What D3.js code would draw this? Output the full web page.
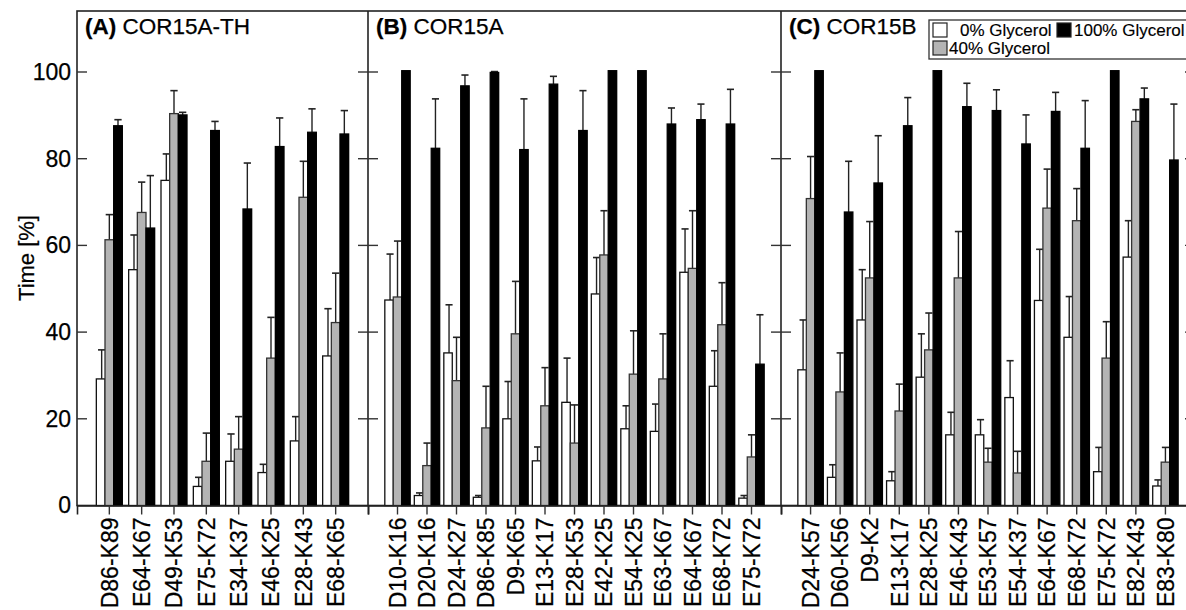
<!DOCTYPE html>
<html>
<head>
<meta charset="utf-8">
<script src="https://cdn.jsdelivr.net/npm/d3@7"></script>
<style>
  html, body { margin: 0; padding: 0; background: #fff; }
  svg { display: block; font-family: "Liberation Sans", Arial, sans-serif; }
  text { stroke: #000; stroke-width: 0.25px; }
</style>
</head>
<body>
<svg id="chart" width="1186" height="610"></svg>
<script>
// ---------------- data ----------------
const panelTitles = ["COR15A-TH", "COR15A", "COR15B"];
const panelLetters = ["(A)", "(B)", "(C)"];
const seriesNames = ["0% Glycerol", "40% Glycerol", "100% Glycerol"];
const yTicks = [0, 20, 40, 60, 80, 100];

const catsA = ["D86-K89", "E64-K67", "D49-K53", "E75-K72", "E34-K37", "E46-K25", "E28-K43", "E68-K65"];
const a0    = [29.2, 54.4, 75.0, 4.4, 10.2, 7.6, 14.9, 34.5];
const a0e   = [6.7, 8.0, 6.1, 2.1, 6.3, 1.9, 5.6, 10.9];
const a40   = [61.3, 67.6, 90.4, 10.2, 13.0, 34.0, 71.1, 42.2];
const a40e  = [5.8, 7.0, 5.3, 6.5, 7.5, 9.4, 8.3, 11.4];
const a100  = [87.6, 64.0, 90.1, 86.5, 68.4, 82.8, 86.1, 85.7];
const a100e = [1.4, 12.1, 0.6, 2.1, 10.6, 6.6, 5.4, 5.4];

const catsB = ["D10-K16", "D20-K16", "D24-K27", "D86-K85", "D9-K65", "E13-K17", "E28-K53", "E42-K25", "E54-K25", "E63-K67", "E64-K67", "E68-K72", "E75-K72"];
const b0    = [47.4, 2.3, 35.2, 1.9, 20.0, 10.3, 23.8, 48.8, 17.7, 17.1, 53.8, 27.5, 1.7];
const b0e   = [10.6, 0.6, 11.1, 0.4, 8.6, 3.2, 10.2, 8.4, 5.3, 6.3, 10.0, 8.2, 0.6];
const b40   = [48.1, 9.2, 28.8, 17.9, 39.6, 23.0, 14.4, 57.8, 30.3, 29.2, 54.7, 41.7, 11.2];
const b40e  = [12.9, 5.2, 10.0, 9.6, 12.1, 8.8, 8.8, 10.2, 10.0, 10.4, 13.3, 9.7, 5.1];
const b100  = [100.3, 82.4, 96.8, 99.9, 82.1, 97.2, 86.5, 100.3, 100.3, 88.0, 89.0, 88.0, 32.6];
const b100e = [0, 11.4, 2.5, 0.2, 11.7, 1.8, 9.2, 0, 0, 3.7, 3.6, 8.0, 11.4];

const catsC = ["D24-K57", "D60-K56", "D9-K2", "E13-K17", "E28-K25", "E46-K43", "E53-K57", "E54-K37", "E64-K67", "E68-K72", "E75-K72", "E82-K43", "E83-K80"];
const c0    = [31.3, 6.5, 42.8, 5.7, 29.6, 16.3, 16.3, 24.9, 47.3, 38.8, 7.8, 57.3, 4.5];
const c0e   = [11.5, 2.9, 11.6, 2.1, 10.0, 5.2, 3.5, 8.5, 11.8, 9.4, 5.6, 8.4, 1.4];
const c40   = [70.8, 26.2, 52.5, 21.8, 35.9, 52.5, 10.0, 7.5, 68.6, 65.7, 34.0, 88.6, 10.0];
const c40e  = [9.7, 9.0, 13.0, 6.2, 8.5, 10.7, 3.2, 5.0, 9.0, 7.4, 8.4, 2.7, 3.4];
const c100  = [100.3, 67.7, 74.4, 87.6, 100.3, 92.0, 91.1, 83.4, 90.9, 82.4, 100.3, 93.8, 79.7];
const c100e = [0, 11.7, 10.9, 6.5, 0, 5.4, 4.8, 6.7, 4.4, 11.0, 0, 2.5, 12.9];

// ---------------- layout ----------------
const svg = d3.select("#chart");
const FONT = 23;
const plotTop = 11, plotBottom = 505.5;
const panelEdges = [77, 368, 781, 1195];
const fills = ["#ffffff", "#b4b4b4", "#000000"];
const strokes = ["#111", "#333", "#000"];

const y = d3.scaleLinear().domain([0, 100]).range([plotBottom, 72]);

const panels = [
  { cats: catsA, vals: [a0, a40, a100], errs: [a0e, a40e, a100e] },
  { cats: catsB, vals: [b0, b40, b100], errs: [b0e, b40e, b100e] },
  { cats: catsC, vals: [c0, c40, c100], errs: [c0e, c40e, c100e] }
];

// frame
svg.append("rect")
  .attr("x", panelEdges[0]).attr("y", plotTop)
  .attr("width", panelEdges[3] - panelEdges[0]).attr("height", plotBottom - plotTop)
  .attr("fill", "none").attr("stroke", "#222").attr("stroke-width", 1.6);
[panelEdges[1], panelEdges[2]].forEach(xv => {
  svg.append("line").attr("x1", xv).attr("x2", xv).attr("y1", plotTop).attr("y2", plotBottom)
    .attr("stroke", "#222").attr("stroke-width", 1.6);
});

// y ticks on each panel border
panelEdges.forEach((xv, i) => {
  const left = i === 0 ? 0 : 10;
  const right = i === 3 ? 0 : 10;
  yTicks.filter(t => t > 0).forEach(t => {
    svg.append("line")
      .attr("x1", xv - left).attr("x2", xv + right)
      .attr("y1", y(t)).attr("y2", y(t))
      .attr("stroke", "#333").attr("stroke-width", 1.4);
  });
});

// y axis labels
const yAxis = d3.axisLeft(y).tickValues(yTicks).tickSize(0).tickPadding(6);
const yg = svg.append("g").attr("transform", `translate(${panelEdges[0]},0)`).call(yAxis);
yg.select(".domain").remove();
yg.selectAll("text").attr("font-size", FONT).attr("fill", "#000")
  .attr("font-family", '"Liberation Sans", Arial, sans-serif');

svg.append("text")
  .attr("transform", "translate(34,258) rotate(-90)")
  .attr("text-anchor", "middle")
  .attr("font-size", 22).attr("fill", "#000")
  .text("Time [%]");

// panels
panels.forEach((p, pi) => {
  const x = d3.scaleBand().domain(p.cats)
    .range([panelEdges[pi], panelEdges[pi + 1]])
    .paddingInner(0).paddingOuter(0.5);
  const groupW = Math.min(26, x.bandwidth() * 0.86);
  const x1 = d3.scaleBand().domain([0, 1, 2]).range([-groupW / 2, groupW / 2]).padding(0);
  const bw = x1.bandwidth();

  const g = svg.append("g");
  p.cats.forEach((c, ci) => {
    const cx = x(c) + x.bandwidth() / 2;
    [0, 1, 2].forEach(s => {
      const v = p.vals[s][ci], e = p.errs[s][ci];
      const bx = cx + x1(s);
      if (e > 0) {
        const ex = bx + bw / 2 + (s === 0 ? 1 : 0);
        g.append("line").attr("x1", ex).attr("x2", ex)
          .attr("y1", y(v)).attr("y2", y(v + e))
          .attr("stroke", "#222").attr("stroke-width", 1.4);
        g.append("line").attr("x1", ex - bw * 0.42).attr("x2", ex + bw * 0.42)
          .attr("y1", y(v + e)).attr("y2", y(v + e))
          .attr("stroke", "#222").attr("stroke-width", 1.6);
      }
      g.append("rect")
        .attr("x", bx).attr("y", y(v))
        .attr("width", bw).attr("height", y(0) - y(v))
        .attr("fill", fills[s]).attr("stroke", strokes[s]).attr("stroke-width", 1.3);
    });
  });

  // x axis
  const xAxis = d3.axisBottom(x).tickSize(9).tickPadding(4);
  const xg = svg.append("g").attr("transform", `translate(0,${plotBottom})`).call(xAxis);
  xg.select(".domain").attr("stroke", "#222").attr("stroke-width", 1.6);
  xg.selectAll(".tick line").attr("stroke", "#333").attr("stroke-width", 1.4);
  xg.selectAll("text")
    .attr("font-size", FONT).attr("fill", "#000")
    .attr("font-family", '"Liberation Sans", Arial, sans-serif')
    .attr("text-anchor", "end")
    .attr("transform", "rotate(-90)")
    .attr("x", -12).attr("y", 0).attr("dy", "0.36em");

  // title
  const t = svg.append("text")
    .attr("x", panelEdges[pi] + 8).attr("y", 34)
    .attr("font-size", 22.5).attr("fill", "#000");
  t.append("tspan").attr("font-weight", "bold").text(panelLetters[pi]);
  t.append("tspan").text(" " + panelTitles[pi]);
});

// legend
const lg = svg.append("g").attr("transform", "translate(929,20)");
lg.append("rect").attr("x", 0).attr("y", 0).attr("width", 270).attr("height", 39)
  .attr("fill", "#fff").attr("stroke", "#333").attr("stroke-width", 1.3);
const legendItems = [
  { s: 0, x: 4, y: 3, tx: 31 },
  { s: 2, x: 128, y: 3, tx: 145 },
  { s: 1, x: 4, y: 21, tx: 20 }
];
legendItems.forEach(it => {
  lg.append("rect").attr("x", it.x).attr("y", it.y).attr("width", 14).attr("height", 14)
    .attr("fill", fills[it.s]).attr("stroke", "#222").attr("stroke-width", 1.2);
  lg.append("text").attr("x", it.tx).attr("y", it.y + 13)
    .attr("font-size", 17).attr("fill", "#000").style("stroke-width", "0.15px").text(seriesNames[it.s]);
});
</script>
</body>
</html>
